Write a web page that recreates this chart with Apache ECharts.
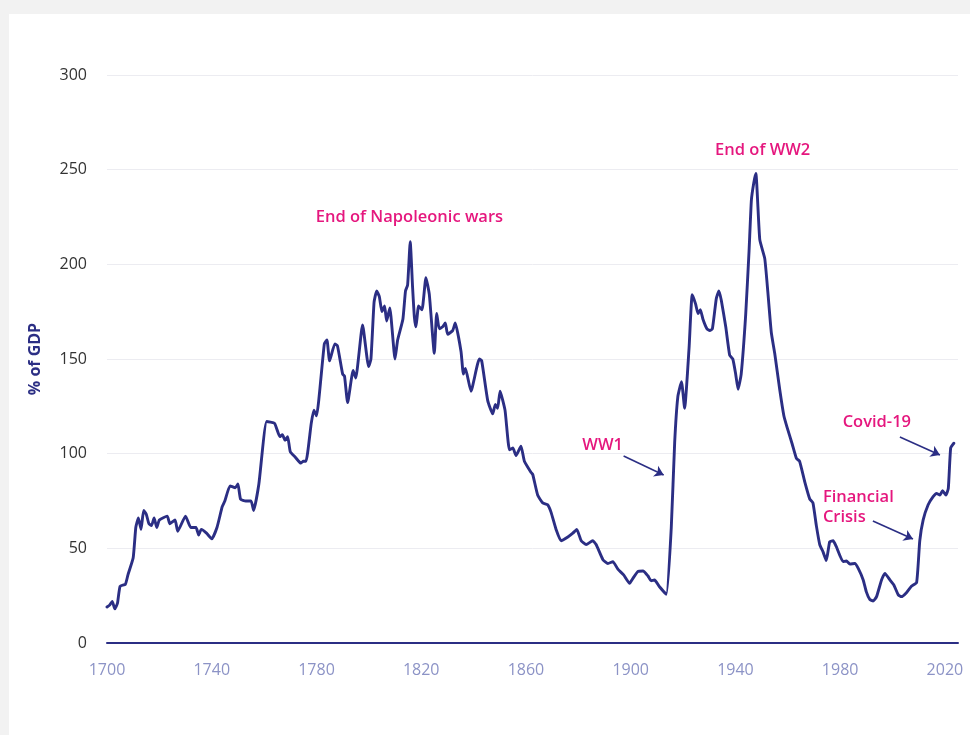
<!DOCTYPE html>
<html>
<head>
<meta charset="utf-8">
<script src="https://cdn.jsdelivr.net/npm/echarts@6/dist/echarts.min.js"></script>
<style>
  html, body { margin: 0; padding: 0; background: #f2f2f2; width: 970px; height: 735px; overflow: hidden; }
  #chart { position: absolute; left: 9px; top: 14px; width: 961px; height: 721px; background: #ffffff; }
</style>
</head>
<body>
<div id="chart"></div>
<script>
// Years and debt as % of GDP
const years = [
  1700, 1701, 1702, 1703, 1704, 1705, 1707, 1708, 1710, 1711, 1712, 1713, 1714, 1715, 1716, 1717, 1718, 1719, 1720,
  1723, 1724, 1726, 1727, 1730, 1732, 1734, 1735, 1736, 1738, 1740, 1742, 1744, 1745, 1747, 1749, 1750, 1751, 1753,
  1755, 1756, 1758, 1761, 1764, 1766, 1767, 1768, 1769, 1770, 1772, 1774, 1775, 1776, 1778, 1779, 1780, 1783, 1784,
  1785, 1787, 1788, 1790, 1790.7, 1791.9, 1794, 1795, 1797.6, 1799.9, 1800.8, 1802, 1803, 1804, 1805, 1806, 1806.8,
  1808, 1810, 1811, 1813, 1814, 1814.8, 1815.8, 1816.7, 1817.4, 1818, 1819, 1820.3, 1821.8, 1823.1, 1825, 1825.9,
  1826.9, 1828.2, 1829.2, 1830.1, 1832, 1833, 1835.2, 1836.1, 1836.9, 1839, 1842.2, 1843.1, 1845.4, 1847.3, 1848.3,
  1849.2, 1850.1, 1852, 1853.7, 1855, 1856.2, 1858.1, 1859.4, 1862, 1862.6, 1864.5, 1866.4, 1868.3, 1869.6, 1871.5,
  1873.4, 1876, 1877.9, 1879.4, 1881.1, 1883, 1885.5, 1886.8, 1889.4, 1891.3, 1893.2, 1895.1, 1897.3, 1899.6, 1900.8,
  1902.7, 1904.7, 1906.6, 1907.8, 1909.1, 1911, 1913.6, 1915.5, 1916.8, 1918, 1919.4, 1920.6, 1922.3, 1923.5, 1924.8,
  1925.7, 1926.6, 1927.6, 1929.1, 1930.2, 1931.2, 1932.7, 1933.7, 1934.6, 1936.3, 1937.8, 1939, 1940.1, 1941, 1942.2,
  1943.9, 1945.2, 1946.1, 1947, 1947.8, 1949.3, 1951.2, 1952.4, 1953.7, 1955, 1956.9, 1958.5, 1959.7, 1961.7, 1963.3,
  1964.5, 1966.5, 1968.4, 1969.6, 1970.9, 1972.2, 1973.5, 1974.7, 1976, 1977.3, 1978.5, 1981.1, 1982.4, 1983.7, 1985.6,
  1986.9, 1988.8, 1990, 1991.3, 1992.6, 1993.9, 1995.8, 1997.1, 1999, 2000.5, 2002.2, 2003.4, 2005.3, 2007.2, 2009.2,
  2010.4, 2011.7, 2013.6, 2015.5, 2016.8, 2018.1, 2019.1, 2020.4, 2021.3, 2022.2, 2023.4
];
const debtPctGdp = [
  19, 20, 22, 18, 21, 30, 31, 36, 45, 61, 66, 60, 70, 68, 63, 62, 66, 61, 65,
  67, 63, 65, 59, 67, 61, 61, 57, 60, 58, 55, 61, 72, 75, 83, 82, 84, 76, 75,
  75, 70, 84, 117, 116, 109, 110, 107, 109, 101, 98, 95, 96, 96, 116, 123, 120, 158, 160,
  149, 158, 157, 142, 141, 127, 144, 140, 168, 146, 150, 180, 186, 183, 175, 178, 170,
  177, 150, 160, 171, 186, 189, 212, 188, 172, 167, 178, 176, 193, 184, 153, 174,
  166, 167, 169, 163, 165, 169, 154, 142, 145, 133, 150, 149, 128, 121, 126,
  124, 133, 123, 102, 103, 99, 104, 96, 90, 89, 78, 74, 73, 69, 60,
  54, 56, 58, 60, 54, 52, 54, 52, 44, 42, 43, 39, 36, 31.5, 34,
  37.7, 38, 35.4, 32.9, 33.3, 29.7, 25.7, 61, 106, 130, 138, 124, 156, 184, 179,
  174, 176, 171, 166, 165, 166, 182, 186, 181, 167, 152, 150, 142, 134, 142,
  173, 207, 234, 243, 248, 213, 203, 185, 164, 153, 134, 120, 114, 105, 97.5,
  96, 85, 76, 74, 62, 52, 48, 43.5, 53.5, 54, 51, 43, 43.3, 41.7, 42,
  39.4, 33.3, 27, 23, 22.2, 24.5, 33.3, 36.8, 33.3, 30.6, 25.4, 24.5, 26.6, 30, 32,
  54, 65, 73, 77.3, 79, 78.2, 80.4, 78.2, 81.7, 103, 105.5
];
const yTicks = [0, 50, 100, 150, 200, 250, 300];
const xTickLabels = [1700, 1740, 1780, 1820, 1860, 1900, 1940, 1980, 2020];

// Annotation texts with their anchor (year, % of GDP)
const noteTexts = ['End of Napoleonic wars', 'End of WW2', 'WW1', 'Covid-19', 'Financial\nCrisis'];
const noteYears = [1815.5, 1950.4, 1889.3, 1994.0, 1973.4];
const noteValues = [225, 260, 104.6, 116.7, 71.6];
const noteAlign = ['center', 'center', 'center', 'center', 'left'];
// Arrows: from (year, value) to (year, value)
const arrowFromYears = [1897.3, 2002.8, 1992.5];
const arrowFromValues = [98.8, 108.8, 64.4];
const arrowToYears = [1912.6, 2018.1, 2007.8];
const arrowToValues = [88.7, 99.3, 54.9];

const NAVY = '#2b2e84';
const PINK = '#e5177e';
const FONT = '"Open Sans", sans-serif';

const chart = echarts.init(document.getElementById('chart'), null, { renderer: 'canvas' });

const lineData = years.map((y, i) => [y, debtPctGdp[i]]);

const option = {
  animation: false,
  backgroundColor: '#ffffff',
  grid: { left: 98, top: 61, right: 12, bottom: 92, containLabel: false },
  xAxis: {
    type: 'value',
    min: 1700,
    max: 2025,
    interval: 40,
    axisLine: { show: true, lineStyle: { color: NAVY, width: 2 } },
    axisTick: { show: false },
    splitLine: { show: false },
    axisLabel: {
      showMaxLabel: false,
      margin: 19,
      color: '#8c93c6',
      fontFamily: FONT,
      fontSize: 16,
      fontWeight: 500,
      formatter: v => (xTickLabels.indexOf(v) >= 0 ? String(v) : '')
    }
  },
  yAxis: {
    type: 'value',
    min: yTicks[0],
    max: yTicks[yTicks.length - 1],
    interval: 50,
    name: '% of GDP',
    nameLocation: 'middle',
    nameGap: 64,
    nameRotate: 90,
    nameTextStyle: { color: NAVY, fontFamily: FONT, fontSize: 16, fontWeight: 'bold' },
    axisLine: { show: false },
    axisTick: { show: false },
    splitLine: { show: true, lineStyle: { color: '#ececf1', width: 1 } },
    axisLabel: { margin: 20, color: '#333333', fontFamily: FONT, fontSize: 16 }
  },
  series: [
    {
      type: 'line',
      data: lineData,
      showSymbol: false,
      smooth: 0.15,
      lineStyle: { color: NAVY, width: 2.9, join: 'round', cap: 'round' },
      z: 3,
      markPoint: {
        symbol: 'circle',
        symbolSize: 0,
        silent: true,
        data: noteTexts.map((t, i) => ({
          coord: [noteYears[i], noteValues[i]],
          label: {
            show: true,
            formatter: t,
            position: 'inside',
            align: noteAlign[i],
            verticalAlign: 'middle',
            color: PINK,
            fontFamily: FONT,
            fontSize: 16.5,
            fontWeight: 600,
            lineHeight: 20
          }
        }))
      },
      markLine: {
        silent: true,
        symbol: ['none', 'arrow'],
        symbolSize: 9,
        lineStyle: { color: NAVY, width: 1.6, type: 'solid' },
        itemStyle: { color: NAVY },
        label: { show: false },
        emphasis: { disabled: true },
        data: arrowFromYears.map((y, i) => [
          { coord: [y, arrowFromValues[i]] },
          { coord: [arrowToYears[i], arrowToValues[i]] }
        ])
      }
    }
  ]
};

chart.setOption(option);
</script>
</body>
</html>
